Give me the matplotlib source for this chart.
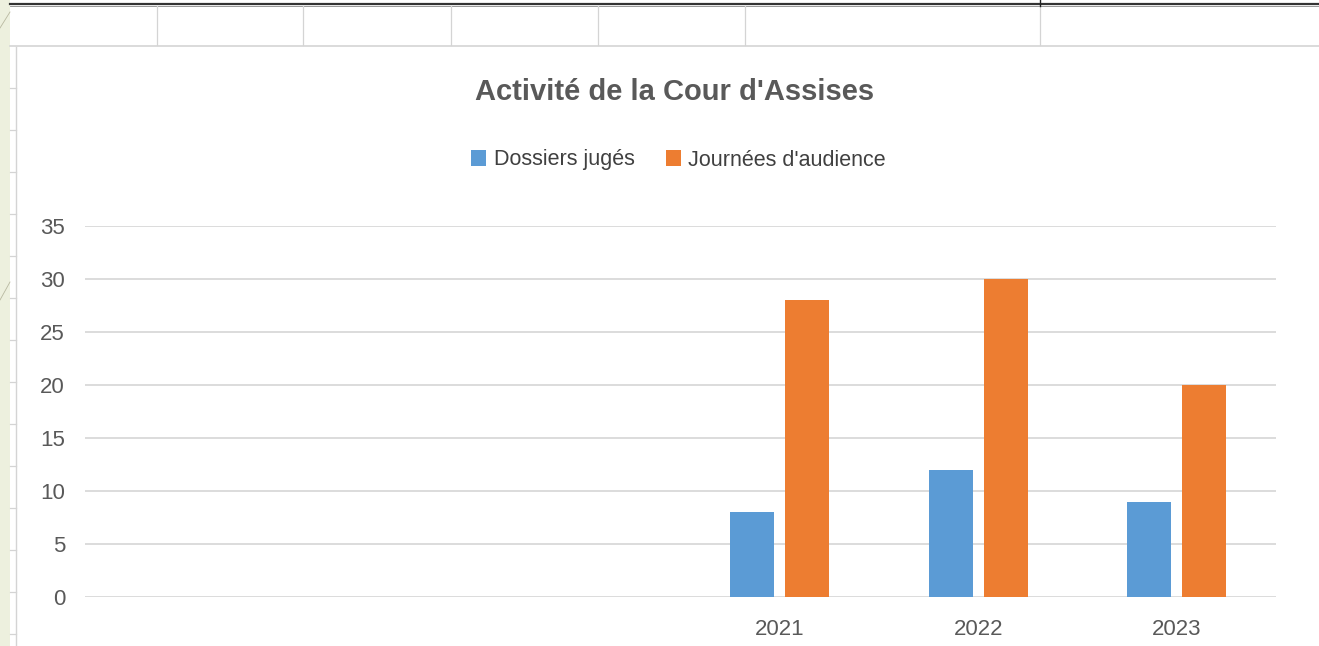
import matplotlib
matplotlib.use("Agg")
import matplotlib.pyplot as plt
from matplotlib.lines import Line2D
from matplotlib.patches import Rectangle
import numpy as np
from matplotlib import font_manager

names = {f.name for f in font_manager.fontManager.ttflist}
FONT = "Liberation Sans Narrow" if "Liberation Sans Narrow" in names else "Liberation Sans"
plt.rcParams['font.family'] = [FONT, 'DejaVu Sans']

# ---- data ----
categories = ["", "", "", "2021", "2022", "2023"]
dossiers = [np.nan, np.nan, np.nan, 8, 12, 9]
journees = [np.nan, np.nan, np.nan, 28, 30, 20]
series_names = ["Dossiers jugés", "Journées d'audience"]
title = "Activité de la Cour d'Assises"
yticks = [0, 5, 10, 15, 20, 25, 30, 35]

BLUE = "#5B9BD5"
ORANGE = "#ED7D31"
GRID = "#D9D9D9"
TXT = "#595959"

W, H = 1319, 646
fig = plt.figure(figsize=(W / 100, H / 100), dpi=100)
fig.patch.set_facecolor("white")

def px(x, y):
    return x / W, 1 - y / H

def hline(x0, x1, y, color, lw):
    (a, b), (c, d) = px(x0, y), px(x1, y)
    fig.add_artist(Line2D([a, c], [b, d], color=color, lw=lw, transform=fig.transFigure))

def vline(x, y0, y1, color, lw):
    (a, b), (c, d) = px(x, y0), px(x, y1)
    fig.add_artist(Line2D([a, c], [b, d], color=color, lw=lw, transform=fig.transFigure))

# left greenish strip
fig.add_artist(Rectangle((0, 0), 10 / W, 1, transform=fig.transFigure,
                         facecolor="#EDF0DE", edgecolor="none"))
fig.add_artist(Line2D([0, 10 / W], [1 - 28 / H, 1 - 12 / H], color="#B8B8A0", lw=0.6,
                      transform=fig.transFigure))
fig.add_artist(Line2D([0, 10 / W], [1 - 300 / H, 1 - 282 / H], color="#B8B8A0", lw=0.6,
                      transform=fig.transFigure))
# spreadsheet top
hline(10, W, 3.5, "#333333", 1.6)
hline(10, W, 5.5, "#888888", 0.6)
for x in [157, 303, 451, 598, 745, 1040]:
    vline(x, 6, 45, "#D4D4D4", 0.9)
vline(1040, 0, 6, "#222222", 1.0)
hline(10, W, 46, "#D4D4D4", 1.2)
vline(16, 47, H, "#D4D4D4", 1.0)
for y in [88, 130, 172, 214, 256, 298, 340, 382, 424, 466, 508, 550, 592, 634]:
    hline(10, 16, y, "#D4D4D4", 0.9)

# ---- axes ----
l, b = px(85, 597)
r, t = px(1276, 226)
ax = fig.add_axes([l, b, r - l, t - b])
x = np.arange(len(categories))
width = 0.222
off = 0.139
ax.bar(x - off, dossiers, width, color=BLUE, label=series_names[0], zorder=3)
ax.bar(x + off, journees, width, color=ORANGE, label=series_names[1], zorder=3)

ax.set_xlim(-0.5, len(categories) - 0.5)
ax.set_ylim(0, 35)
ax.set_yticks(yticks)
ax.yaxis.grid(True, color=GRID, lw=1.3, zorder=0)
ax.set_axisbelow(True)
for s in ax.spines.values():
    s.set_visible(False)
ax.set_xticks(x)
ax.set_xticklabels(categories)
ax.tick_params(axis="both", length=0, colors=TXT, labelsize=16)
ax.tick_params(axis="y", pad=14.4)
ax.tick_params(axis="x", pad=16)

fig.text(*px(675, 92), title, ha="center", va="center", fontsize=21,
         fontweight="bold", color=TXT)

leg = fig.legend(loc="center", bbox_to_anchor=px(678.5, 160), ncol=2, frameon=False,
                 fontsize=15.5, handlelength=0.7, handleheight=0.7, handletextpad=0.35,
                 columnspacing=1.45)
for tx in leg.get_texts():
    tx.set_color("#404040")

fig.savefig("out.png", dpi=100, facecolor=fig.get_facecolor())
